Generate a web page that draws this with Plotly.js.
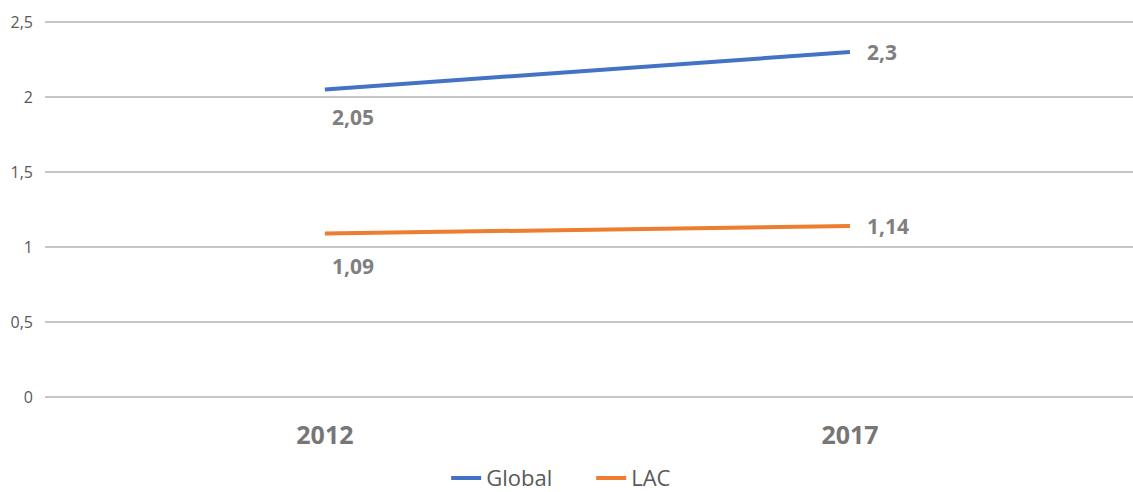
<!DOCTYPE html>
<html>
<head>
<meta charset="utf-8">
<script src="https://cdn.plot.ly/plotly-3.0.1.min.js"></script>
<style>html,body{margin:0;padding:0;background:#fff;}#chart{width:1133px;height:492px;}</style>
</head>
<body>
<div id="chart"></div>
<script>
const categories = ['2012', '2017'];
const seriesNames = ['Global', 'LAC'];
const globalValues = [2.05, 2.3];
const lacValues = [1.09, 1.14];
const yTickValues = [0, 0.5, 1, 1.5, 2, 2.5];
const yTickLabels = ['0', '0,5', '1', '1,5', '2', '2,5'];

const colors = ['#4472C4', '#ED7D31'];
const allValues = [globalValues, lacValues];
const labelDrop = [27, 32];

const fmt = v => String(v).replace('.', ',');

const traces = allValues.map((vals, s) => ({
  x: categories,
  y: vals,
  name: seriesNames[s],
  type: 'scatter',
  mode: 'lines',
  line: {color: colors[s], width: 4},
  hoverinfo: 'skip'
}));

const labelFont = {family: 'Open Sans, sans-serif', size: 21, color: '#7f7f7f', weight: 'bold'};
const annotations = [];
allValues.forEach((vals, s) => {
  vals.forEach((v, i) => {
    if (i === 0) {
      annotations.push({xref: 'x', yref: 'y', x: i, y: v, text: fmt(v), showarrow: false,
        xanchor: 'left', yanchor: 'middle', xshift: 5, yshift: -labelDrop[s], font: labelFont});
    } else {
      annotations.push({xref: 'x', yref: 'y', x: i, y: v, text: fmt(v), showarrow: false,
        xanchor: 'left', yanchor: 'middle', xshift: 15, yshift: 0, font: labelFont});
    }
  });
});

const layout = {
  width: 1133, height: 492,
  margin: {l: 45, r: 0, t: 19, b: 92, autoexpand: false},
  paper_bgcolor: '#fff', plot_bgcolor: '#fff',
  showlegend: true,
  legend: {orientation: 'h', x: 0.502, xanchor: 'center', y: -0.205, yanchor: 'middle',
    font: {family: 'Open Sans, sans-serif', size: 22, color: '#595959'},
    bgcolor: 'rgba(0,0,0,0)', entrywidth: 100, tracegroupgap: 0},
  xaxis: {
    type: 'category', range: [-0.533, 1.539], showgrid: false, zeroline: false,
    showline: false, ticks: '', ticklen: 0, ticklabelstandoff: 18,
    tickfont: {family: 'Open Sans, sans-serif', size: 25, color: '#767676', weight: 'bold'},
    fixedrange: true
  },
  yaxis: {
    range: [-0.02, 2.52], tickvals: yTickValues, ticktext: yTickLabels,
    showgrid: true, gridcolor: '#c6c6c6', gridwidth: 1.5, zeroline: false, showline: false,
    ticks: '', ticklabelstandoff: 11,
    tickfont: {family: 'Open Sans, sans-serif', size: 16, color: '#595959'},
    fixedrange: true
  },
  annotations: annotations
};

Plotly.newPlot('chart', traces, layout, {displayModeBar: false, staticPlot: true});
</script>
</body>
</html>
